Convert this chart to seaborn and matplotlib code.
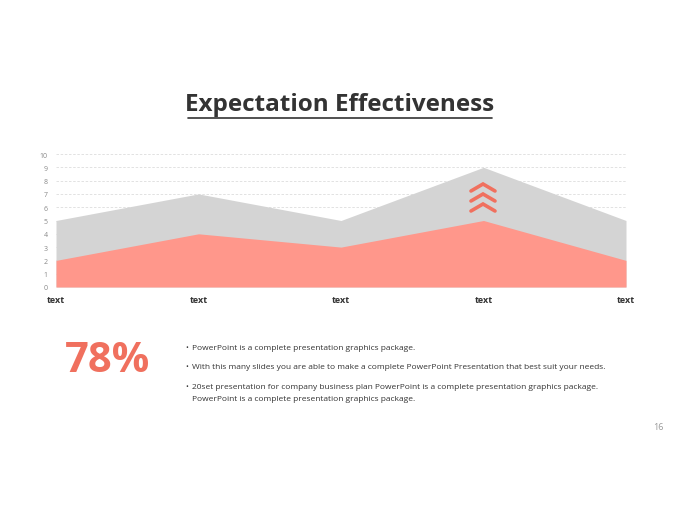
import matplotlib
matplotlib.use("Agg")
import matplotlib.pyplot as plt
import seaborn as sns
import numpy as np
from matplotlib.lines import Line2D

# chart data
categories = ["text", "text", "text", "text", "text"]
total_values = [5, 7, 5, 9, 5]
part_values = [2, 4, 3, 5, 2]
y_ticks = list(range(0, 11))

title = "Expectation Effectiveness"
big_number = "78%"
bullets = [
    ["PowerPoint is a complete presentation graphics package."],
    ["With this many slides you are able to make a complete PowerPoint Presentation that best suit your needs."],
    ["20set presentation for company business plan PowerPoint is a complete presentation graphics package.",
     "PowerPoint is a complete presentation graphics package."],
]
page_no = "16"

sns.set_style("white")
plt.rcParams["font.family"] = ["Open Sans", "DejaVu Sans"]

grey = "#d4d4d4"
coral = "#ff978b"
accent = "#f0705e"

fig = plt.figure(figsize=(6.8, 5.1), dpi=100)
W, H = 680, 510

# axes placed so that first/last points sit at the plot edges
ax = fig.add_axes([56 / W, (H - 288) / H, 570 / W, 133 / H])
x = np.arange(len(categories))
ax.fill_between(x, 0, total_values, color=grey, linewidth=0, zorder=2)
ax.fill_between(x, 0, part_values, color=coral, linewidth=0, zorder=3)
ax.set_xlim(0, len(categories) - 1)
ax.set_ylim(0, 10)
ax.set_yticks(y_ticks)
ax.set_yticklabels([str(v) for v in y_ticks], fontsize=5, color="#888888")
ax.set_xticks(x)
ax.set_xticklabels(categories, fontsize=6.5, fontweight="bold", color="#333333")
ax.tick_params(axis="both", length=0)
ax.tick_params(axis="y", pad=6)
ax.tick_params(axis="x", pad=6)
for yv in y_ticks[1:]:
    ax.axhline(yv, color="#dddddd", linestyle=(0, (3, 2)), linewidth=0.6, zorder=1)
sns.despine(ax=ax, left=True, bottom=True)

# chevrons above the peak
for tip in [185, 195, 205]:
    xs = [471 / W, 483 / W, 495 / W]
    ys = [(H - tip - 7) / H, (H - tip) / H, (H - tip - 7) / H]
    fig.add_artist(Line2D(xs, ys, color=accent, linewidth=2.6, solid_capstyle="round",
                          solid_joinstyle="miter", transform=fig.transFigure))

# title with underline
fig.text(340 / W, 1 - 105 / H, title, ha="center", va="center", fontsize=17.5,
         fontweight="bold", color="#333333")
fig.add_artist(Line2D([188 / W, 492 / W], [1 - 119 / H, 1 - 119 / H], color="#333333",
                      linewidth=1.2, transform=fig.transFigure))

# big number and bullets
fig.text(108 / W, 1 - 361 / H, big_number, ha="center", va="center", fontsize=30,
         fontweight="bold", color=accent)
bullet_y = [348, 368, 388]
for by, lines in zip(bullet_y, bullets):
    fig.text(185 / W, 1 - by / H, "•", ha="left", va="center", fontsize=5.5, color="#333333")
    for i, line in enumerate(lines):
        fig.text(192 / W, 1 - (by + 12 * i) / H, line, ha="left", va="center",
                 fontsize=6.0, color="#333333")

fig.text(658 / W, 1 - 428 / H, page_no, ha="center", va="center", fontsize=6.5, color="#999999")

fig.savefig("out.png", dpi=100)
